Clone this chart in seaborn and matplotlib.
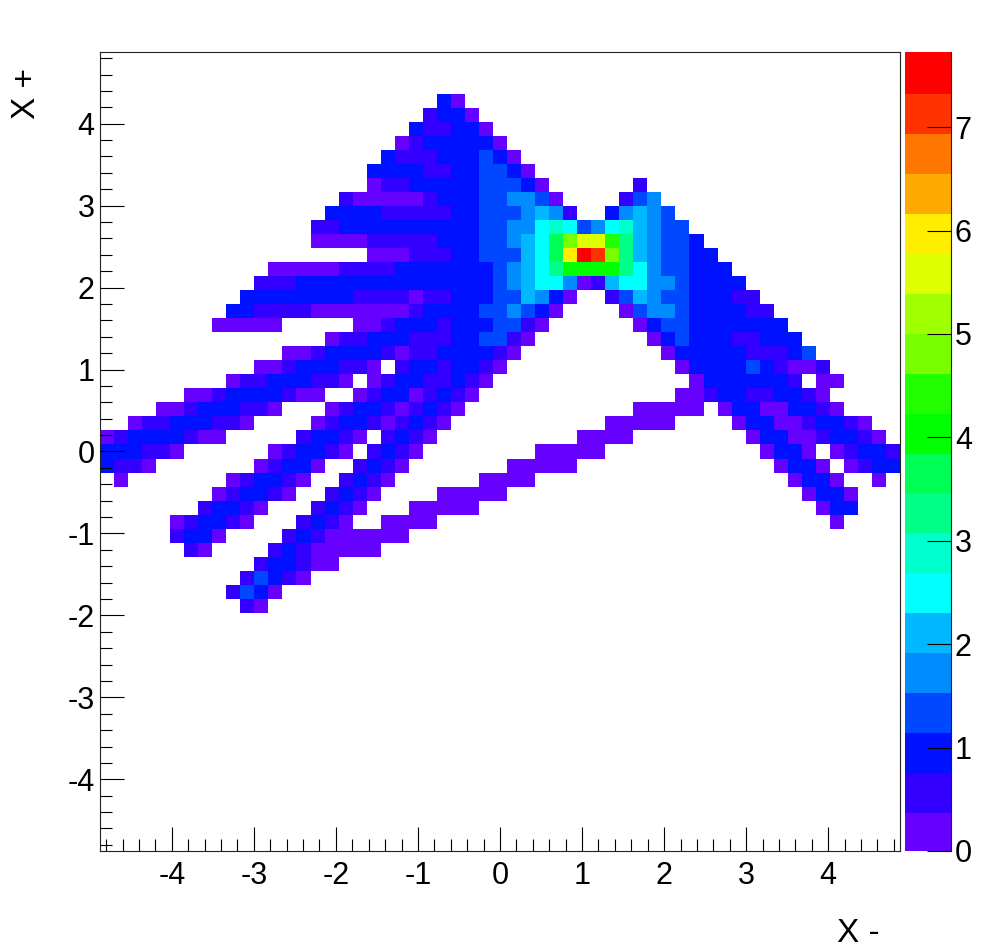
import numpy as np
import pandas as pd
import matplotlib
matplotlib.use("Agg")
import matplotlib.pyplot as plt
from matplotlib.colors import ListedColormap
import seaborn as sns

N_BINS = 57
AXIS_LIMIT = 4.875
Z_MAX = 7.727
COLORS = ["#6600ff", "#3300ff", "#0011ff", "#0048ff", "#008cff", "#00b8ff", "#00ffff",
          "#00ffcc", "#00ff88", "#00ff55", "#00ff00", "#22ff00", "#77ff00", "#a0ff00",
          "#ddff00", "#ffee00", "#ffaa00", "#ff7700", "#ff3300", "#ff0000"]
AXIS_TICKS = [-4, -3, -2, -1, 0, 1, 2, 3, 4]
Z_TICKS = [0, 1, 2, 3, 4, 5, 6, 7]

# Colour level of the filled bins, row from the top: (first column, levels base-20)
CELLS = {
    3: [(24, "20")],
    4: [(23, "1220")],
    5: [(22, "211220")],
    6: [(21, "01222220")],
    7: [(20, "2111222320")],
    8: [(19, "2222112233" "20")],
    9: [(19, "011222223332" "0"), (38, "1")],
    10: [(17, "10000012223344" "30"), (37, "134")],
    11: [(16, "222211111" "22333" "4541"), (36, "24543")],
    12: [(15, "112222222222" "3344" "67634675433")],
    13: [(15, "000011111222" "33456" "9ceeb854332")],
    14: [(19, "000111" "22333" "569fjic854" "3322")],
    15: [(12, "000001111" "2222222" "34568" "aaaa" "864" "33222")],
    16: [(11, "111" "22222222222222" "345664015" "66443" "2222")],
    17: [(10, "22222222" "1111" "0" "11" "222" "33" "5420"), (36, "135433" "22211")],
    18: [(9, "22" "1111" "0000000" "1" "2222" "33" "4320"), (37, "0344" "3" "2222" "11")],
    19: [(8, "00000"), (18, "00" "1" "222" "1" "222" "33" "10"), (38, "0233" "2222222")],
    20: [(16, "011" "222" "111" "22" "33" "10"), (39, "023" "222" "11" "222")],
    21: [(13, "001" "2222" "10" "11" "2222" "10"), (40, "0" "22222" "111" "23")],
    22: [(11, "001" "222" "11" "0"), (21, "1" "22" "1" "22" "10"), (41, "0" "2222" "3" "21" "00" "1")],
    23: [(9, "011" "222" "11" "0"), (19, "01" "22" "11" "21" "0"), (42, "0" "222222" "1"), (51, "00")],
    24: [(6, "001" "2222" "1" "00"), (18, "01" "22" "01210"), (41, "001" "22" "11" "22" "10")],
    25: [(4, "001" "222" "11" "0"), (16, "01" "22" "10" "1210"), (38, "00000"), (44, "0" "22" "00" "22" "10")],
    26: [(2, "011" "222" "11" "0"), (15, "01" "22" "10" "1210"), (36, "00000"), (45, "0" "22" "00" "1" "22" "10")],
    27: [(0, "01" "2222" "1" "00"), (14, "1" "22" "10"), (20, "1210"), (34, "0000"), (46, "0" "22" "00" "1" "22" "10")],
    28: [(0, "222" "11" "0"), (12, "01" "22" "10"), (19, "1210"), (31, "00000"), (47, "0" "22" "0"), (52, "01" "22" "1")],
    29: [(0, "2110"), (11, "01" "22" "0"), (18, "1210"), (29, "00000"), (48, "0" "22" "0"), (53, "01" "22")],
    30: [(1, "0"), (9, "01" "22" "10"), (17, "1210"), (27, "0000"), (49, "0" "22" "0"), (55, "0")],
    31: [(8, "01" "22" "10"), (16, "1210"), (24, "00000"), (50, "0" "22" "0")],
    32: [(7, "1" "22" "10"), (15, "1210"), (22, "00000"), (51, "0" "22")],
    33: [(5, "01" "22" "10"), (14, "1210"), (20, "0000"), (52, "0")],
    34: [(5, "1" "22" "0"), (13, "121" "000000")],
    35: [(6, "10"), (12, "121" "00000")],
    36: [(11, "1" "22" "1" "00")],
    37: [(10, "13210")],
    38: [(9, "1320")],
    39: [(10, "10")],
}

level_width = Z_MAX / len(COLORS)
values = np.full((N_BINS, N_BINS), np.nan)
for row, segments in CELLS.items():
    for first, levels in segments:
        for i, ch in enumerate(levels):
            values[row, first + i] = (int(ch, 20) + 0.5) * level_width
frame = pd.DataFrame(values)

sns.set_theme(style="white", rc={"text.color": "black", "axes.labelcolor": "black",
                                 "xtick.color": "black", "ytick.color": "black"})
plt.rcParams["font.family"] = ["Liberation Sans", "DejaVu Sans"]

fig = plt.figure(figsize=(10, 9.5), dpi=100)
ax = fig.add_axes([0.100, 99 / 950, 0.800, 799 / 950])
cax = fig.add_axes([0.905, 99 / 950, 0.0456, 799 / 950])

cmap = ListedColormap(COLORS)
sns.heatmap(frame, ax=ax, cbar_ax=cax, cmap=cmap, vmin=0, vmax=Z_MAX, square=False,
            xticklabels=False, yticklabels=False, linewidths=0,
            cbar_kws={"ticks": Z_TICKS})

bin_width = 2 * AXIS_LIMIT / N_BINS
to_col = lambda v: (np.asarray(v) + AXIS_LIMIT) / bin_width
to_row = lambda v: (AXIS_LIMIT - np.asarray(v)) / bin_width

minor = [v / 10 for v in range(-48, 49, 2) if v % 10 != 0]
ax.set_axisbelow(False)
ax.set_xticks(to_col(AXIS_TICKS))
ax.set_xticklabels([str(t) for t in AXIS_TICKS])
ax.set_yticks(to_row(AXIS_TICKS))
ax.set_yticklabels([str(t) for t in AXIS_TICKS])
ax.set_xticks(to_col(minor), minor=True)
ax.set_yticks(to_row(minor), minor=True)
ax.tick_params(axis="both", which="major", direction="in", length=17.3, width=0.8,
               color="black", labelsize=22, bottom=True, left=True, top=False, right=False)
ax.tick_params(axis="both", which="minor", direction="in", length=8.6, width=0.8,
               color="black", bottom=True, left=True, top=False, right=False)
ax.tick_params(axis="x", which="major", pad=7)
ax.tick_params(axis="y", which="major", pad=4, labelrotation=0)
for spine in ax.spines.values():
    spine.set_visible(True)
    spine.set_color("#222222")
    spine.set_linewidth(0.8)

ax.set_xlabel("X -", fontsize=24, loc="right", labelpad=0)
ax.xaxis.set_label_coords(0.975, -0.084)
ax.xaxis.label.set_ha("right")
ax.set_ylabel("X +", fontsize=24, loc="top", labelpad=0)
ax.yaxis.set_label_coords(-0.0725, 0.98)

cbar = ax.collections[0].colorbar
cbar.solids.set_edgecolor("face")
cbar.outline.set_visible(False)
cax.set_axisbelow(False)
cax.yaxis.set_ticks_position("right")
cax.tick_params(axis="y", which="major", direction="in", length=17.3, width=0.8,
                color="black", labelsize=22, pad=3, right=True, left=False)
cax.tick_params(axis="y", which="minor", length=0)
cax.spines["right"].set_visible(True)
cax.spines["right"].set_color("#222222")
cax.spines["right"].set_linewidth(0.8)

fig.savefig("out.png", dpi=100, facecolor="white")
